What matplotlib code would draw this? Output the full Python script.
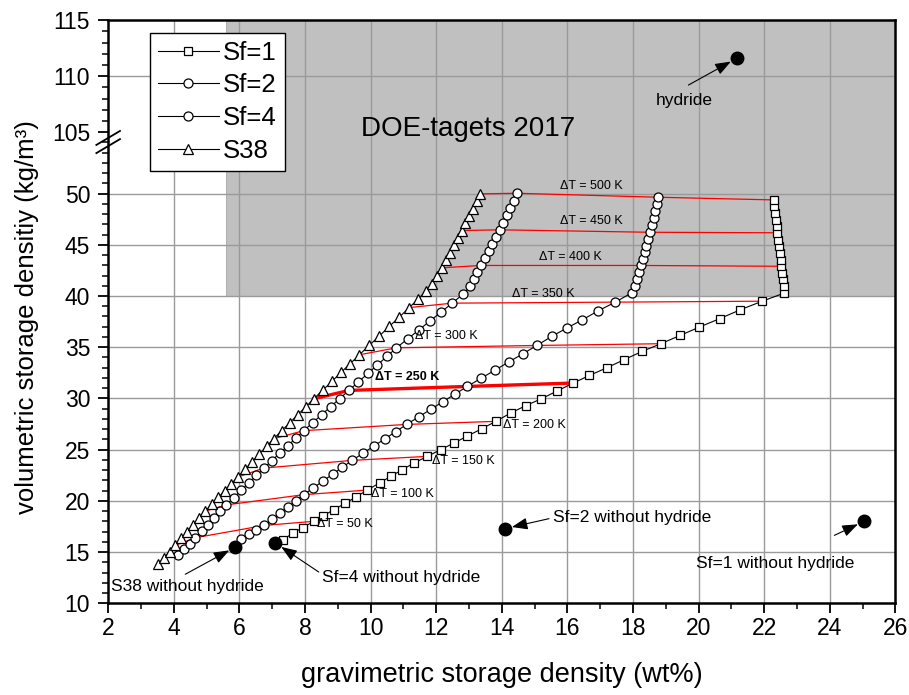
import numpy as np
import matplotlib.pyplot as plt
from matplotlib.patches import Rectangle
from matplotlib.ticker import FixedLocator

plt.rcParams['font.family'] = ['Liberation Sans', 'DejaVu Sans']

# temperature swing of every marker, 10 K apart
dT = np.arange(20, 510, 10)
dT_iso = [50, 100, 150, 200, 250, 300, 350, 400, 450, 500]

sf1_x = [7.33, 7.64, 7.93, 8.27, 8.55, 8.88, 9.23, 9.57, 9.90,
         10.29, 10.63, 10.97, 11.32, 11.73, 12.14, 12.54, 12.95, 13.39, 13.82,
         14.27, 14.73, 15.21, 15.68, 16.18, 16.67, 17.21, 17.73, 18.28, 18.85,
         19.44, 20.02, 20.64, 21.27, 21.94, 22.60, 22.60, 22.58, 22.55, 22.52,
         22.50, 22.47, 22.45, 22.42, 22.40, 22.38, 22.36, 22.33, 22.31, 22.29]
sf1_y = [16.21, 16.86, 17.38, 18.00, 18.52, 19.14, 19.76, 20.41, 21.05,
         21.78, 22.42, 23.04, 23.69, 24.34, 25.00, 25.64, 26.32, 27.04, 27.76,
         28.57, 29.29, 29.97, 30.71, 31.50, 32.24, 33.00, 33.78, 34.59, 35.34,
         36.15, 36.96, 37.78, 38.65, 39.49, 40.27, 41.00, 41.67, 42.29, 42.90,
         43.55, 44.20, 44.85, 45.50, 46.17, 46.80, 47.45, 48.10, 48.75, 49.38]

sf2_x = [6.06, 6.29, 6.52, 6.76, 7.00, 7.24, 7.48, 7.72, 7.96,
         8.26, 8.55, 8.85, 9.14, 9.44, 9.77, 10.10, 10.44, 10.77, 11.10,
         11.47, 11.84, 12.21, 12.58, 12.95, 13.37, 13.80, 14.22, 14.65, 15.07,
         15.52, 15.98, 16.46, 16.94, 17.46, 17.96, 18.05, 18.12, 18.18, 18.24,
         18.30, 18.36, 18.41, 18.47, 18.53, 18.58, 18.63, 18.68, 18.72, 18.77]
sf2_y = [16.31, 16.75, 17.18, 17.60, 18.20, 18.80, 19.40, 20.00, 20.60,
         21.27, 21.94, 22.61, 23.28, 23.95, 24.65, 25.35, 26.06, 26.76, 27.46,
         28.20, 28.94, 29.69, 30.43, 31.17, 31.97, 32.77, 33.57, 34.37, 35.17,
         36.05, 36.86, 37.68, 38.55, 39.40, 40.30, 41.00, 41.70, 42.35, 42.98,
         43.63, 44.28, 44.92, 45.57, 46.22, 46.90, 47.59, 48.27, 48.96, 49.64]

sf4_x = [4.12, 4.30, 4.48, 4.66, 4.85, 5.04, 5.22, 5.41, 5.60,
         5.83, 6.06, 6.29, 6.52, 6.75, 6.99, 7.23, 7.48, 7.72, 7.96,
         8.24, 8.51, 8.79, 9.06, 9.34, 9.63, 9.92, 10.21, 10.50, 10.79,
         11.13, 11.47, 11.81, 12.15, 12.49, 12.83, 13.03, 13.15, 13.26, 13.36,
         13.48, 13.60, 13.71, 13.83, 13.95, 14.05, 14.15, 14.26, 14.36, 14.46]
sf4_y = [14.68, 15.25, 15.82, 16.40, 17.04, 17.68, 18.32, 18.96, 19.60,
         20.32, 21.04, 21.76, 22.48, 23.20, 23.93, 24.66, 25.39, 26.12, 26.85,
         27.64, 28.42, 29.21, 29.99, 30.78, 31.61, 32.44, 33.28, 34.11, 34.94,
         35.81, 36.68, 37.56, 38.43, 39.30, 40.21, 40.93, 41.68, 42.32, 42.98,
         43.68, 44.37, 45.07, 45.76, 46.46, 47.17, 47.89, 48.60, 49.32, 50.03]

s38_x = [3.51, 3.69, 3.87, 4.05, 4.23, 4.41, 4.60, 4.78, 4.96,
         5.16, 5.36, 5.55, 5.75, 5.95, 6.17, 6.39, 6.61, 6.83, 7.05,
         7.29, 7.54, 7.78, 8.03, 8.27, 8.55, 8.83, 9.10, 9.38, 9.66,
         9.96, 10.27, 10.57, 10.88, 11.18, 11.45, 11.68, 11.88, 12.03, 12.17,
         12.29, 12.41, 12.54, 12.66, 12.78, 12.89, 13.00, 13.12, 13.23, 13.34]
s38_y = [13.80, 14.42, 15.04, 15.66, 16.33, 17.00, 17.66, 18.33, 19.00,
         19.66, 20.33, 20.99, 21.66, 22.32, 23.07, 23.82, 24.57, 25.32, 26.07,
         26.85, 27.63, 28.41, 29.19, 29.97, 30.83, 31.69, 32.54, 33.40, 34.26,
         35.18, 36.10, 37.03, 37.95, 38.87, 39.70, 40.45, 41.20, 41.97, 42.75,
         43.48, 44.21, 44.93, 45.66, 46.39, 47.11, 47.82, 48.54, 49.25, 49.97]

# storage without hydride, and the hydride itself
ref_names = ['hydride', 'Sf=2 without hydride', 'Sf=1 without hydride',
             'Sf=4 without hydride', 'S38 without hydride']
ref_x = [21.17, 14.10, 25.05, 7.10, 5.88]
ref_y = [111.6, 17.29, 18.0, 15.88, 15.49]

# DOE 2017 targets
doe_x = 5.6
doe_y = 40

# broken y axis: 10..55 linear, 55..105 squeezed into one unit, 105..115 a bit stretched
K = 1.093


def fwd(y):
    y = np.asarray(y, dtype=float)
    return np.where(y <= 55, y, np.where(y < 105, 55 + (y - 55) / 50.0, 56 + (y - 105) * K))


def inv(u):
    u = np.asarray(u, dtype=float)
    return np.where(u <= 55, u, np.where(u < 56, 55 + (u - 55) * 50.0, 105 + (u - 56) / K))


fig = plt.figure(figsize=(9.09, 6.95), dpi=100)
ax = fig.add_axes([0.119, 0.132, 0.866, 0.839])
ax.set_yscale('function', functions=(fwd, inv))
ax.set_xlim(2, 26)
ax.set_ylim(10, 115)

ax.add_patch(Rectangle((doe_x, doe_y), 26 - doe_x, 115 - doe_y,
                       facecolor='#c0c0c0', edgecolor='#a8a8a8', lw=0.6, zorder=0))

for gx in range(4, 26, 2):
    ax.axvline(gx, color='#9a9a9a', lw=1.0, zorder=0.5)
for gy in [15, 20, 25, 30, 35, 40, 45, 50, 110]:
    ax.axhline(gy, color='#9a9a9a', lw=1.0, zorder=0.5)

ax.text(12.96, 105.3, 'DOE-tagets 2017', fontsize=20, ha='center', va='center', zorder=3)

# lines of equal temperature swing across all four storages
for t in dT_iso:
    i = int(np.where(dT == t)[0][0])
    xs = [s38_x[i], sf4_x[i], sf2_x[i], sf1_x[i]]
    ys = [s38_y[i], sf4_y[i], sf2_y[i], sf1_y[i]]
    ax.plot(xs, ys, color='red', lw=2.4 if t == 250 else 0.9, zorder=2)

mk = dict(color='k', lw=0.8, mfc='white', mec='k', mew=0.9)
h1, = ax.plot(sf1_x, sf1_y, marker='s', ms=6, zorder=3, **mk)
h2, = ax.plot(sf2_x, sf2_y, marker='o', ms=6.5, zorder=3, **mk)
h4, = ax.plot(sf4_x, sf4_y, marker='o', ms=6.5, zorder=3, **mk)
h38, = ax.plot(s38_x, s38_y, marker='^', ms=7, zorder=3, **mk)

dt_labels = {500: (16.72, 50.7), 450: (16.72, 47.3), 400: (16.1, 43.85),
             350: (15.25, 40.15), 300: (12.3, 36.05), 250: (11.1, 32.05),
             200: (14.98, 27.37), 150: (12.82, 23.88), 100: (10.96, 20.7),
             50: (9.21, 17.71)}
for t, (lx, ly) in dt_labels.items():
    ax.text(lx, ly, '\u0394T = %d K' % t, fontsize=9, ha='center', va='center',
            fontweight='bold' if t == 250 else 'normal', zorder=4)

ax.plot(ref_x, ref_y, 'o', color='k', ms=9, zorder=5)

label_pos = [(19.56, 107.86), (17.98, 18.39), (22.35, 13.9), (10.92, 12.54), (4.43, 11.66)]
arrow_tail = [(19.69, 109.2), (15.44, 18.26), (24.14, 16.63), (8.42, 13.05), (4.35, 12.83)]
for name, rx, ry, (lx, ly), tail in zip(ref_names, ref_x, ref_y, label_pos, arrow_tail):
    ax.text(lx, ly, name, fontsize=12.5, ha='center', va='center', zorder=5)
    ax.annotate('', xy=(rx, ry), xytext=tail, zorder=5,
                arrowprops=dict(arrowstyle='-|>,head_length=0.8,head_width=0.3',
                                color='k', lw=0.8, shrinkA=0, shrinkB=5,
                                mutation_scale=12))

# ticks
ax.set_xticks(range(2, 27, 2))
ax.xaxis.set_minor_locator(FixedLocator(range(3, 26, 2)))
yt = [10, 15, 20, 25, 30, 35, 40, 45, 50, 105, 110, 115]
ax.set_yticks(yt)
ax.set_yticklabels([str(v) for v in yt])
ax.yaxis.set_minor_locator(FixedLocator([v for v in list(range(11, 56)) + list(range(106, 115))
                                         if v not in yt]))
ax.tick_params(which='major', direction='out', length=7, width=1.3, labelsize=16.5, pad=3)
ax.tick_params(axis='y', which='major', pad=6)
ax.tick_params(which='minor', direction='out', length=4, width=1.1)
for sp in ax.spines.values():
    sp.set_linewidth(1.8)

# break mark on the left spine
for dy in (-0.014, 0.0):
    ax.plot([-0.015, 0.015], [0.786 + dy, 0.81 + dy],
            transform=ax.transAxes, color='k', lw=1.3, clip_on=False, zorder=6)

ax.set_xlabel('gravimetric storage density (wt%)', fontsize=19.5)
ax.set_ylabel('volumetric storage densitiy (kg/m\u00b3)', fontsize=18.5)
ax.xaxis.set_label_coords(0.5, -0.1)
ax.yaxis.set_label_coords(-0.088, 0.49)

leg = ax.legend([h1, h2, h4, h38], ['Sf=1', 'Sf=2', 'Sf=4', 'S38'],
                loc='upper left', bbox_to_anchor=(0.053, 0.978), fontsize=18.5,
                fancybox=False, framealpha=1, edgecolor='k', handlelength=2.4,
                handletextpad=0.15, labelspacing=0.34, borderpad=0.3, borderaxespad=0)
leg.get_frame().set_linewidth(1.0)
leg.set_zorder(7)

fig.savefig('out.png', dpi=100)
